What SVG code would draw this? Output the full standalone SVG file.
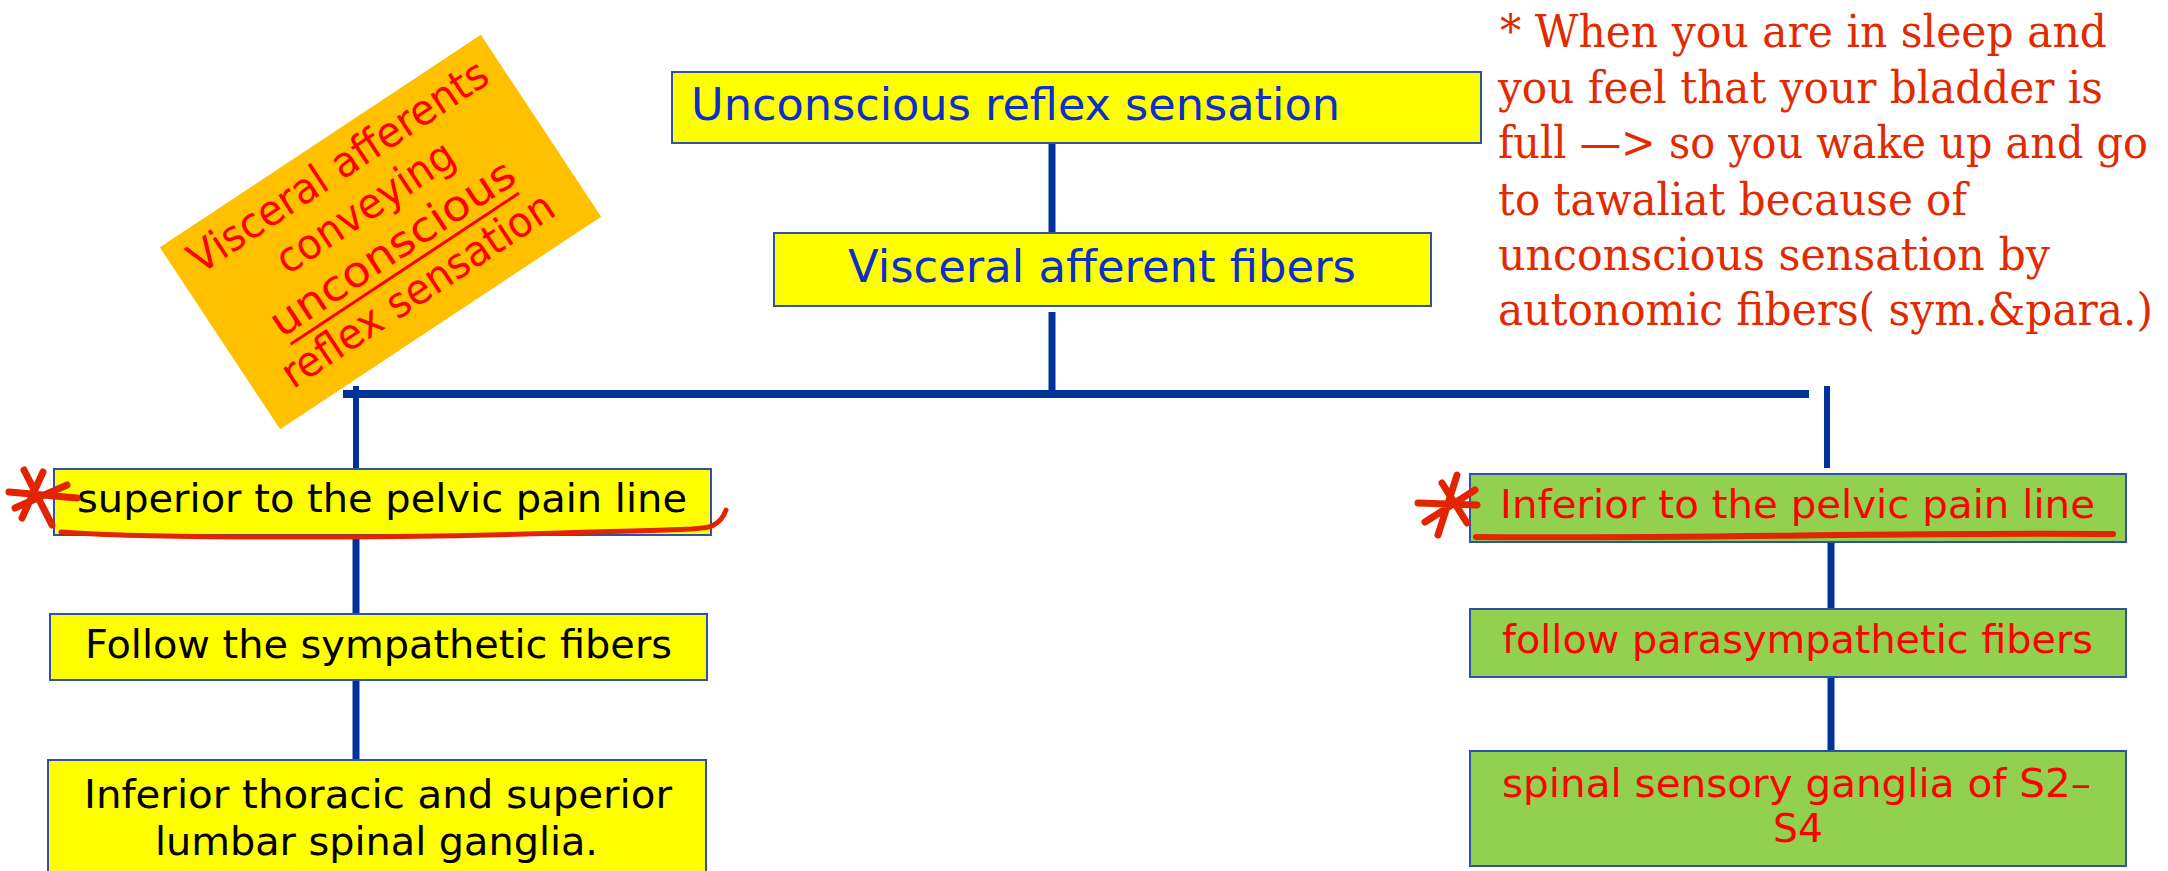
<svg xmlns="http://www.w3.org/2000/svg" width="2168" height="871" viewBox="0 0 2168 871">
<style>
.box{stroke:#2F52A8;stroke-width:2}
.yel{fill:#FFFF00}
.grn{fill:#92D050}
.t{font-family:"DejaVu Sans","Liberation Sans",sans-serif;}
.blue{fill:#0B2FC7;font-size:45px}
.blk{fill:#000000;font-size:39px}
.red{fill:#FF0000;font-size:39px}
.con{stroke:#003399;fill:none}
.ink{stroke:#E32400;fill:none;stroke-linecap:round;stroke-linejoin:round}
.note{font-family:"DejaVu Serif","Liberation Serif",serif;font-size:44px;fill:#E22A00}
</style>
<rect width="2168" height="871" fill="#FFFFFF"/>

<g id="connectors">
  <line class="con" x1="1052" y1="143" x2="1052" y2="233" stroke-width="7"/>
  <line class="con" x1="1052" y1="312" x2="1052" y2="390" stroke-width="7"/>
  <line class="con" x1="343" y1="394" x2="1809" y2="394" stroke-width="8"/>
  <line class="con" x1="356" y1="386" x2="356" y2="469" stroke-width="6"/>
  <line class="con" x1="356" y1="536" x2="356" y2="614" stroke-width="7"/>
  <line class="con" x1="356" y1="680" x2="356" y2="760" stroke-width="7"/>
  <line class="con" x1="1827" y1="386" x2="1827" y2="468" stroke-width="6"/>
  <line class="con" x1="1831" y1="542" x2="1831" y2="609" stroke-width="7"/>
  <line class="con" x1="1831" y1="677" x2="1831" y2="751" stroke-width="7"/>
</g>

<g id="note-tilted">
  <g transform="translate(380.5,232) rotate(-33.5)">
    <rect x="-192.5" y="-109" width="385" height="218" fill="#FFC000"/>
    <g class="t" fill="#FF0000" font-size="42" text-anchor="middle">
      <text x="1" y="-64" textLength="350" lengthAdjust="spacingAndGlyphs">Visceral afferents</text>
      <text x="1" y="-15" textLength="205" lengthAdjust="spacingAndGlyphs">conveying</text>
      <text x="1" y="34" textLength="285" lengthAdjust="spacingAndGlyphs">unconscious</text>
      <text x="-1" y="83" textLength="318" lengthAdjust="spacingAndGlyphs">reflex sensation</text>
    </g>
    <line x1="-137" y1="44" x2="137" y2="44" stroke="#FF0000" stroke-width="3"/>
  </g>
</g>

<g id="node-unconscious">
  <rect class="box yel" x="672" y="72" width="809" height="71"/>
  <text class="t blue" x="691" y="120" textLength="649" lengthAdjust="spacingAndGlyphs">Unconscious reflex sensation</text>
</g>

<g id="node-visceral">
  <rect class="box yel" x="774" y="233" width="657" height="73"/>
  <text class="t blue" x="1102" y="282" text-anchor="middle" textLength="508" lengthAdjust="spacingAndGlyphs">Visceral afferent fibers</text>
</g>

<g id="node-superior">
  <rect class="box yel" x="54" y="469" width="657" height="66"/>
  <text class="t blk" x="382" y="512" text-anchor="middle" textLength="610" lengthAdjust="spacingAndGlyphs">superior to the pelvic pain line</text>
</g>

<g id="node-follow-symp">
  <rect class="box yel" x="50" y="614" width="657" height="66"/>
  <text class="t blk" x="378.5" y="658" text-anchor="middle" textLength="587" lengthAdjust="spacingAndGlyphs">Follow the sympathetic fibers</text>
</g>

<g id="node-thoracic">
  <rect class="box yel" x="48" y="760" width="658" height="120"/>
  <text class="t blk" x="378" y="808" text-anchor="middle" textLength="588" lengthAdjust="spacingAndGlyphs">Inferior thoracic and superior</text>
  <text class="t blk" x="376.5" y="855" text-anchor="middle" textLength="443" lengthAdjust="spacingAndGlyphs">lumbar spinal ganglia.</text>
</g>

<g id="node-inferior">
  <rect class="box grn" x="1470" y="474" width="656" height="68"/>
  <text class="t red" x="1797.5" y="518" text-anchor="middle" textLength="595" lengthAdjust="spacingAndGlyphs">Inferior to the pelvic pain line</text>
</g>

<g id="node-follow-para">
  <rect class="box grn" x="1470" y="609" width="656" height="68"/>
  <text class="t red" x="1797.5" y="653" text-anchor="middle" textLength="591" lengthAdjust="spacingAndGlyphs">follow parasympathetic fibers</text>
</g>

<g id="node-spinal">
  <rect class="box grn" x="1470" y="751" width="656" height="115"/>
  <text class="t red" x="1796.5" y="797" text-anchor="middle" textLength="589" lengthAdjust="spacingAndGlyphs">spinal sensory ganglia of S2–</text>
  <text class="t red" x="1798" y="842" text-anchor="middle" textLength="50" lengthAdjust="spacingAndGlyphs">S4</text>
</g>

<g id="note-text">
  <text class="note" x="1500" y="47" textLength="607" lengthAdjust="spacingAndGlyphs">* When you are in sleep and</text>
  <text class="note" x="1498" y="103" textLength="605" lengthAdjust="spacingAndGlyphs">you feel that your bladder is</text>
  <text class="note" x="1498" y="158" textLength="650" lengthAdjust="spacingAndGlyphs">full —&gt; so you wake up and go</text>
  <text class="note" x="1498" y="215" textLength="469" lengthAdjust="spacingAndGlyphs">to tawaliat because of</text>
  <text class="note" x="1498" y="270" textLength="552" lengthAdjust="spacingAndGlyphs">unconscious sensation by</text>
  <text class="note" x="1498" y="325" textLength="655" lengthAdjust="spacingAndGlyphs">autonomic fibers( sym.&amp;para.)</text>
</g>

<g id="annotations">
  <path class="ink" stroke-width="7" d="M24,470 L52,525 M43,472 L22,518 M9,492 L77,498 M67,485 L15,508"/>
  <path class="ink" stroke-width="5" d="M61,532 C150,539 400,538 560,533 C640,530 700,531 712,526 C720,522 724,516 726,510"/>
  <path class="ink" stroke-width="7" d="M1457,475 L1438,535 M1442,483 L1467,523 M1418,503 L1477,505 M1475,490 L1425,522"/>
  <path class="ink" stroke-width="6" d="M1476,537 C1700,539 1900,532 2113,534"/>
</g>
</svg>
